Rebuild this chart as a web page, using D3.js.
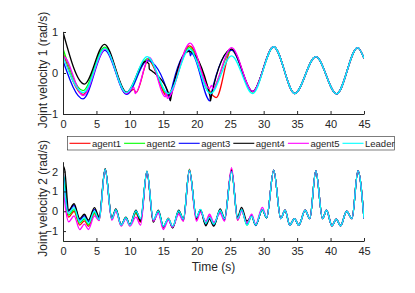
<!DOCTYPE html>
<html lang="en">
<head>
<meta charset="utf-8">
<title>Joint velocities of agents and leader</title>
<script src="https://cdn.jsdelivr.net/npm/d3@7"></script>
<style>
body { margin: 0; background: #fff; }
text { font-family: "Liberation Sans", Arial, sans-serif; fill: #262626; }
</style>
</head>
<body>
<script>
// series names, in drawing order
var names = ["agent1", "agent2", "agent3", "agent4", "agent5", "Leader"];
var colors = ["#ff0000", "#00ff00", "#0000ff", "#000000", "#ff00ff", "#00ffff"];

// tick labels
var xTicks = [0, 5, 10, 15, 20, 25, 30, 35, 40, 45];
var y1Ticks = [-1, 0, 1];
var y2Ticks = [-1, 0, 1, 2];

// Joint velocity 1, [time, value] (extremes mostly)
var leaderV1 = [[0, 0.40], [3.05, -0.48], [6.25, 0.60], [9.45, -0.48], [12.6, 0.40], [15.75, -0.50],
    [18.9, 0.58], [22.05, -0.50], [25.2, 0.42], [28.35, -0.50], [31.5, 0.64], [34.65, -0.50],
    [37.8, 0.40], [40.9, -0.51], [44.05, 0.62], [45, 0.36]];
var agent1V1 = [[0, 0.5], [3.0, -0.52], [6.25, 0.60], [9.5, -0.50], [10.6, -0.40], [10.9, -0.48],
    [12.8, 0.33], [13.3, 0.22], [15.6, -0.56], [15.9, -0.50], [18.9, 0.66], [22.4, -0.55],
    [22.9, -0.60], [25.2, 0.58], [28.35, -0.46]];
var agent2V1 = [[0, 0.6], [3.0, -0.43], [6.25, 0.63], [9.5, -0.48], [12.7, 0.35], [15.7, -0.52],
    [18.9, 0.62], [22.0, -0.48], [25.2, 0.56], [28.35, -0.46]];
var agent3V1 = [[0, 0.3], [3.0, -0.63], [6.25, 0.55], [9.5, -0.52], [12.6, 0.30], [15.8, -0.55],
    [16.0, -0.66], [16.1, -0.50], [18.9, 0.55], [19.05, 0.42], [19.2, 0.48], [22.0, -0.68],
    [22.1, -0.55], [25.2, 0.56], [28.35, -0.45]];
var agent4V1 = [[0, 1.0], [3.2, -0.27], [6.2, 0.70], [9.5, -0.47], [12.3, 0.28], [12.85, 0.22],
    [12.9, 0.10], [13.3, 0.05], [15.9, -0.55], [16.05, -0.68], [16.2, -0.55], [18.8, 0.53],
    [22.0, -0.58], [22.05, -0.68], [22.2, -0.55], [25.2, 0.58], [28.35, -0.45]];
var agent5V1 = [[0, 1.0], [0.03, -0.58], [0.07, 0.40], [3.0, -0.55], [6.3, 0.58], [9.5, -0.50],
    [10.6, -0.35], [10.8, -0.50], [12.9, 0.38], [15.3, -0.58], [15.4, -0.45], [15.6, -0.62],
    [19.0, 0.73], [21.9, -0.38], [22.2, -0.30], [22.5, -0.40], [22.8, -0.30], [25.2, 0.62],
    [28.35, -0.45]];

// Joint velocity 2, [time, value]
var leaderV2 = [[0, 2.05], [0.8, -0.12], [1.65, 0.18], [2.5, -0.53], [3.2, -0.32], [3.8, -0.60],
    [4.7, 0.0], [5.4, -0.42], [6.3, 2.12], [7.3, -0.37], [7.9, 0.08], [8.7, -0.70], [9.4, -0.32],
    [10.0, -0.70], [10.9, 0.02], [11.6, -0.37], [12.55, 2.02], [13.5, -0.42], [14.25, 0.02],
    [15.0, -0.75], [15.75, -0.37], [16.4, -0.75], [17.3, 0.02], [18.0, -0.40], [18.9, 2.08],
    [19.95, -0.30], [20.55, 0.10], [21.35, -0.62], [21.9, -0.30], [22.55, -0.65], [23.5, 0.05],
    [24.15, -0.37], [25.2, 2.0], [26.1, -0.37], [26.7, 0.08], [27.5, -0.70], [28.2, -0.25],
    [28.8, -0.70], [29.8, 0.08], [30.45, -0.33], [31.5, 2.08], [32.55, -0.37], [33.2, 0.05],
    [33.9, -0.70], [34.6, -0.37], [35.25, -0.70], [36.2, 0.05], [36.9, -0.37], [37.8, 2.05],
    [38.8, -0.37], [39.4, 0.05], [40.2, -0.73], [40.85, -0.40], [41.5, -0.73], [42.4, 0.0],
    [43.2, -0.37], [44.1, 2.05], [45, -0.37]];
var agent1V2 = [[0, 1.9], [0.85, -0.30], [1.65, 0.0], [2.5, -0.70], [3.2, -0.48], [3.8, -0.76],
    [4.7, -0.12], [5.4, -0.45], [6.3, 2.12], [7.3, -0.42], [7.9, 0.05], [8.7, -0.72], [9.4, -0.35],
    [10.0, -0.72], [10.9, -0.10], [11.6, -0.55], [12.55, 2.02], [13.5, -0.50], [14.25, 0.0],
    [15.0, -0.85], [15.75, -0.35], [16.4, -0.78], [17.3, -0.05], [18.0, -0.48], [18.9, 2.12],
    [19.95, -0.42], [20.55, 0.05], [21.35, -0.62], [21.9, -0.25], [22.55, -0.62], [23.5, 0.0],
    [24.15, -0.45], [25.2, 2.12], [26.1, -0.45], [26.7, 0.05], [27.5, -0.65], [28.2, -0.20],
    [28.8, -0.70]];
var agent2V2 = [[0, -1.7], [0.02, 0.0], [0.12, 1.75], [0.85, -0.20], [1.65, 0.08], [2.5, -0.60],
    [3.2, -0.38], [3.8, -0.68], [4.7, -0.05], [5.4, -0.45], [6.3, 2.12], [7.3, -0.40], [7.9, 0.06],
    [8.7, -0.72], [9.4, -0.34], [10.0, -0.72], [10.9, -0.05], [11.6, -0.45], [12.55, 2.02],
    [13.5, -0.50], [14.25, -0.02], [15.0, -0.78], [15.75, -0.40], [16.4, -0.80], [17.3, -0.02],
    [18.0, -0.45], [18.9, 2.10], [19.95, -0.35], [20.55, 0.08], [21.35, -0.65], [21.9, -0.32],
    [22.55, -0.68], [23.5, 0.02], [24.15, -0.42], [25.2, 2.05], [26.1, -0.40], [26.7, 0.05],
    [27.5, -0.70], [28.2, -0.25], [28.8, -0.70]];
var agent3V2 = [[0, 2.1], [0.85, 0.0], [1.65, 0.30], [2.5, -0.45], [3.2, -0.22], [3.8, -0.52],
    [4.7, 0.10], [5.4, -0.35], [6.3, 2.12], [7.3, -0.37], [7.9, 0.10], [8.7, -0.70], [9.4, -0.32],
    [10.0, -0.70], [10.9, 0.02], [11.6, -0.40], [12.55, 2.0], [13.5, -0.45], [14.25, 0.0],
    [15.0, -0.78], [15.75, -0.40], [16.4, -0.80], [17.3, 0.0], [18.0, -0.42], [18.9, 2.08],
    [19.95, -0.33], [20.55, 0.08], [21.35, -0.66], [21.9, -0.35], [22.55, -0.70], [23.5, 0.05],
    [24.15, -0.40], [25.2, 2.05], [26.1, -0.35], [26.7, 0.10], [27.5, -0.65], [28.2, -0.22],
    [28.8, -0.72]];
var agent4V2 = [[0, 2.3], [0.25, 2.1], [0.85, 0.05], [1.65, 0.38], [2.5, -0.37], [3.2, -0.15],
    [3.8, -0.45], [4.7, 0.18], [5.4, -0.28], [6.3, 2.15], [7.3, -0.35], [7.9, 0.12], [8.7, -0.68],
    [9.4, -0.30], [10.0, -0.68], [10.9, 0.05], [11.6, -0.50], [12.55, 1.98], [13.5, -0.55],
    [14.25, 0.05], [15.0, -0.75], [15.75, -0.40], [16.4, -0.85], [17.3, 0.05], [18.0, -0.38],
    [18.9, 2.05], [19.95, -0.35], [20.55, 0.05], [21.35, -0.73], [21.9, -0.40], [22.55, -0.75],
    [23.5, 0.12], [24.15, -0.35], [25.2, 2.05], [26.1, -0.30], [26.7, 0.20], [27.5, -0.50],
    [28.2, -0.25], [28.8, -0.70]];
var agent5V2 = [[0, 1.3], [0.85, -0.53], [1.65, -0.23], [2.5, -0.92], [3.2, -0.65], [3.8, -0.92],
    [4.7, -0.23], [5.4, -0.47], [6.3, 2.10], [7.3, -0.45], [7.9, 0.0], [8.7, -0.75], [9.4, -0.38],
    [10.0, -0.75], [10.9, -0.30], [11.6, -0.70], [12.55, 2.0], [13.5, -0.50], [14.25, -0.10],
    [15.0, -0.92], [15.75, -0.45], [16.4, -0.80], [17.3, -0.15], [18.0, -0.50], [18.9, 2.05],
    [19.95, -0.50], [20.55, -0.05], [21.35, -0.50], [21.9, -0.15], [22.55, -0.55], [23.5, -0.10],
    [24.15, -0.50], [25.2, 2.20], [26.1, -0.45], [26.7, 0.0], [27.5, -0.60], [28.2, -0.15],
    [28.8, -0.65], [29.8, 0.20], [30.45, -0.30]];

// after the transient the agents sit on the leader, so their tails come from it
function withTail(head, leader) {
    var last = head[head.length - 1][0];
    return head.concat(leader.filter(function(d) { return d[0] > last; }));
}
var seriesV1 = [agent1V1, agent2V1, agent3V1, agent4V1, agent5V1].map(function(a) { return withTail(a, leaderV1); });
seriesV1.push(leaderV1);
var seriesV2 = [agent1V2, agent2V2, agent3V2, agent4V2, agent5V2].map(function(a) { return withTail(a, leaderV2); });
seriesV2.push(leaderV2);

var w = 415, h = 293;
var svg = d3.select("body").append("svg")
    .attr("width", w)
    .attr("height", h);

var xScale = d3.scaleLinear().domain([0, 45]).range([63, 364]);

function panel(id, data, yDomain, yRange, ticks, label) {
    var yScale = d3.scaleLinear().domain(yDomain).range(yRange);

    svg.append("clipPath").attr("id", id)
        .append("rect")
        .attr("x", 63).attr("y", yRange[1] - 1)
        .attr("width", 301).attr("height", yRange[0] - yRange[1] + 2);

    var line = d3.line()
        .x(function(d) { return xScale(d[0]); })
        .y(function(d) { return yScale(d[1]); })
        .curve(d3.curveMonotoneX);

    svg.append("g").attr("clip-path", "url(#" + id + ")")
        .selectAll("path")
        .data(data)
        .enter()
        .append("path")
        .attr("d", line)
        .attr("fill", "none")
        .attr("stroke", function(d, i) { return colors[i]; })
        .attr("stroke-width", 1.3)
        .attr("stroke-linejoin", "round");

    // ticks point inwards, like the original
    var xAxis = d3.axisBottom(xScale).tickValues(xTicks).tickFormat(d3.format("d"))
        .tickSizeInner(-3).tickSizeOuter(0).tickPadding(6);
    var yAxis = d3.axisLeft(yScale).tickValues(ticks).tickFormat(d3.format("d"))
        .tickSizeInner(-3).tickSizeOuter(0).tickPadding(5);

    var gx = svg.append("g")
        .attr("transform", "translate(0," + yRange[0] + ")")
        .call(xAxis);
    var gy = svg.append("g")
        .attr("transform", "translate(63,0)")
        .call(yAxis);
    [gx, gy].forEach(function(g) {
        g.selectAll("path, line").attr("stroke", "#262626");
        g.selectAll("text").attr("fill", "#262626")
            .attr("font-size", "11px")
            .attr("font-family", "Liberation Sans, Arial, sans-serif");
    });

    svg.append("text")
        .attr("transform", "translate(46.5," + ((yRange[0] + yRange[1]) / 2 - 3) + ") rotate(-90)")
        .attr("text-anchor", "middle")
        .attr("font-size", "12px")
        .text(label);
}

panel("clipTop", seriesV1, [-1, 1], [114, 32], y1Ticks, "Joint velocity 1 (rad/s)");
panel("clipBottom", seriesV2, [-1.5, 2.5], [241, 161.7], y2Ticks, "Joint velocity 2 (rad/s)");

svg.append("text")
    .attr("x", 213.5).attr("y", 271)
    .attr("text-anchor", "middle")
    .attr("font-size", "12px")
    .text("Time (s)");

// legend
var legend = svg.append("g");
legend.append("rect")
    .attr("x", 67.5).attr("y", 136.5)
    .attr("width", 327).attr("height", 13.5)
    .attr("fill", "#fff")
    .attr("stroke", "#262626")
    .attr("stroke-width", 0.6);
var items = legend.selectAll("g.item")
    .data(names)
    .enter()
    .append("g")
    .attr("class", "item")
    .attr("transform", function(d, i) { return "translate(" + (69.5 + i * 54.6) + ",143.3)"; });
items.append("line")
    .attr("x1", 0).attr("x2", 21)
    .attr("stroke", function(d, i) { return colors[i]; })
    .attr("stroke-width", 1.1);
items.append("text")
    .attr("x", 22.5).attr("dy", "0.35em")
    .attr("font-size", "9.5px")
    .attr("fill", "#000")
    .text(function(d) { return d; });
</script>
</body>
</html>
